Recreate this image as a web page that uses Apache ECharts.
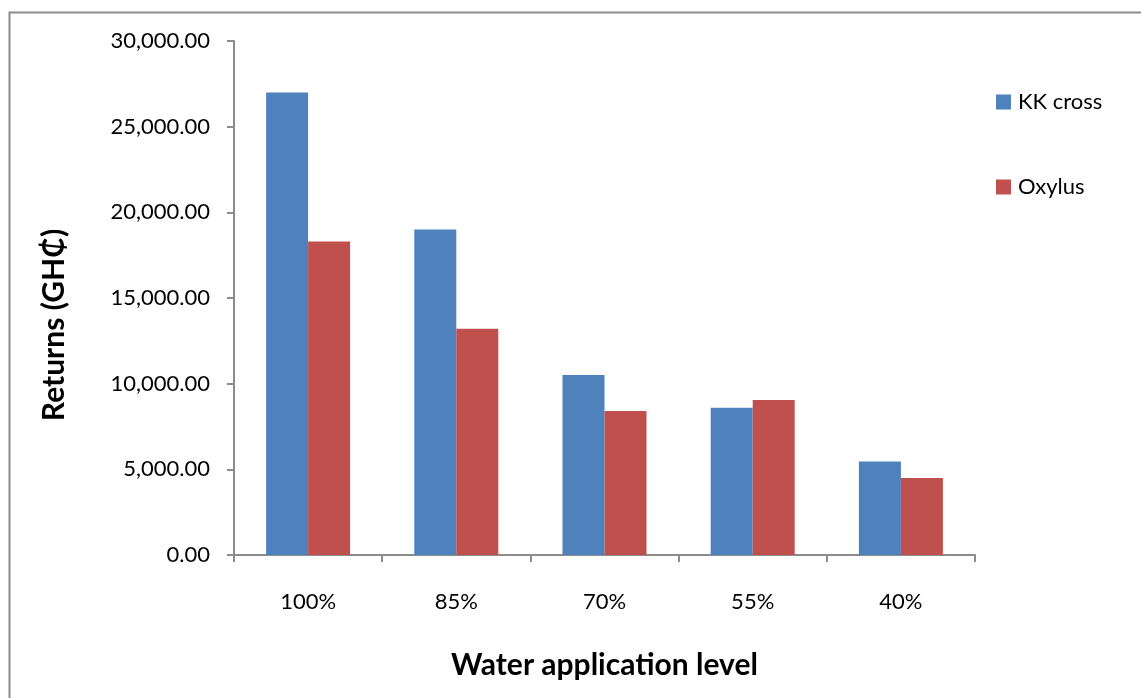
<!DOCTYPE html>
<html><head><meta charset="utf-8">
<script src="https://cdn.jsdelivr.net/npm/echarts@6/dist/echarts.min.js"></script>
<style>html,body{margin:0;padding:0;background:#fff}#c{width:1141px;height:698px}</style>
</head><body><div id="c"></div>
<script>
const categories = ['100%', '85%', '70%', '55%', '40%'];
const kkCross = [27000, 19000, 10500, 8600, 5450];
const oxylus = [18300, 13200, 8400, 9050, 4500];
const yTicks = [0, 5000, 10000, 15000, 20000, 25000, 30000];

const font = 'Lato, "Open Sans", sans-serif';
const chart = echarts.init(document.getElementById('c'));
chart.setOption({
  animation: false,
  backgroundColor: '#fff',
  graphic: [{type: 'rect', shape: {x: 9.5, y: 12.5, width: 1200, height: 800}, style: {fill: 'none', stroke: '#8c8c8c', lineWidth: 2}, silent: true}],
  grid: {left: 234, right: 166, top: 41, bottom: 143},
  legend: {
    orient: 'vertical', left: 996, top: 91, padding: 0, itemWidth: 15, itemHeight: 15, itemGap: 63,
    icon: 'rect',
    textStyle: {fontFamily: font, fontSize: 22, lineHeight: 22, color: '#000', padding: [0,0,0,2]},
    data: ['KK cross', 'Oxylus']
  },
  xAxis: {
    type: 'category', data: categories,
    name: 'Water application level', nameLocation: 'middle', nameGap: 95,
    nameTextStyle: {fontFamily: font, fontSize: 30, fontWeight: 'bold', color: '#000'},
    axisLine: {lineStyle: {color: '#8c8c8c', width: 2}},
    axisTick: {show: true, length: 7, lineStyle: {color: '#8c8c8c', width: 2}},
    axisLabel: {fontFamily: font, fontSize: 22, color: '#000', margin: 36}
  },
  yAxis: {
    type: 'value', min: 0, max: 30000, interval: 5000,
    name: 'Returns (GH₵)', nameLocation: 'middle', nameGap: 165, nameRotate: 90,
    nameTextStyle: {fontFamily: font, fontSize: 30, fontWeight: 'bold', color: '#000', padding: [0, 54, 0, 0]},
    axisLine: {show: true, lineStyle: {color: '#8c8c8c', width: 2}},
    axisTick: {show: true, length: 7, lineStyle: {color: '#8c8c8c', width: 2}},
    splitLine: {show: false},
    axisLabel: {fontFamily: font, fontSize: 22, color: '#000', margin: 24,
      formatter: v => v.toLocaleString('en-US', {minimumFractionDigits: 2, maximumFractionDigits: 2})}
  },
  series: [
    {name: 'KK cross', type: 'bar', data: kkCross, barWidth: 42, barGap: '0%', itemStyle: {color: '#4F81BD'}},
    {name: 'Oxylus', type: 'bar', data: oxylus, barWidth: 42, barGap: '0%', itemStyle: {color: '#C0504D'}}
  ]
});
</script></body></html>
